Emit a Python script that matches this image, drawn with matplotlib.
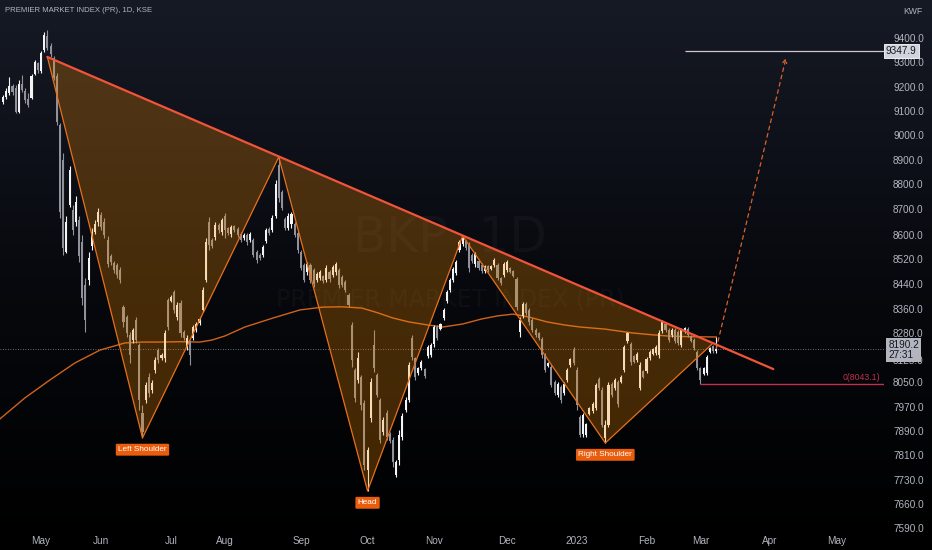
import numpy as np
import matplotlib
matplotlib.use("Agg")
import matplotlib.pyplot as plt
import matplotlib.transforms as mtransforms
from matplotlib.colors import LinearSegmentedColormap
from matplotlib.ticker import FixedLocator, NullLocator

FONT = ["Liberation Sans Narrow", "Liberation Sans", "DejaVu Sans"]
plt.rcParams["font.family"] = FONT

# price axis labels, and the rows (px from top of pane) where TradingView put them;
# this defines the y scale, which is neither linear nor a clean log
AXIS_PRICES = [9400, 9300, 9200, 9100, 9000, 8900, 8800, 8700, 8600, 8520, 8440,
               8360, 8280, 8125, 8050, 7970, 7890, 7810, 7730, 7660, 7590]
AXIS_ROWS = [38, 62, 87, 111, 135, 160, 184, 209, 235, 259, 284,
             309, 333, 360, 382, 407, 431, 455, 480, 504, 528]

# daily bars, (open, high, low, close)
OHLC = [
    # late Apr / May 2022
    (9138, 9167, 9129, 9158), (9158, 9196, 9150, 9183), (9175, 9240, 9167, 9204), (9204, 9212, 9167, 9179),
    (9196, 9208, 9092, 9096), (9096, 9228, 9092, 9212), (9212, 9248, 9179, 9188), (9183, 9196, 9133, 9146),
    (9150, 9175, 9117, 9125), (9154, 9252, 9150, 9244), (9252, 9308, 9248, 9300), (9296, 9300, 9256, 9268),
    (9264, 9346, 9256, 9338), (9350, 9425, 9342, 9413), (9408, 9433, 9350, 9358), (9367, 9379, 9321, 9333),
    (9317, 9325, 9228, 9236), (9244, 9256, 9042, 9054), (9042, 9050, 8665, 8688), (8900, 8928, 8533, 8557),
    (8543, 8673, 8540, 8650), (8716, 8875, 8708, 8858), (8696, 8716, 8600, 8619), (8650, 8752, 8635, 8728),
    (8658, 8673, 8510, 8530), (8577, 8600, 8373, 8395), (8437, 8459, 8283, 8323), (8453, 8543, 8437, 8523),
    (8563, 8627, 8550, 8612), (8612, 8658, 8604, 8642), (8650, 8704, 8635, 8688),
    # Jun
    (8677, 8688, 8619, 8631), (8650, 8665, 8590, 8600), (8583, 8597, 8494, 8504), (8530, 8537, 8501, 8510),
    (8507, 8514, 8475, 8485), (8501, 8507, 8459, 8469), (8485, 8494, 8443, 8453), (8366, 8373, 8300, 8317),
    (8333, 8340, 8257, 8280), (8269, 8283, 8115, 8154), (8240, 8297, 8223, 8290), (8323, 8333, 8223, 8240),
    (8211, 8223, 7960, 7992), (7950, 7976, 7867, 7887), (7992, 8050, 7983, 8040), (8067, 8081, 8002, 8015),
    (8024, 8057, 8015, 8047), (8091, 8142, 8081, 8125), (8182, 8194, 8115, 8125), (8136, 8165, 8125, 8154),
    (8136, 8290, 8118, 8280), (8389, 8395, 8290, 8300),
    # Jul
    (8385, 8405, 8382, 8398), (8414, 8421, 8347, 8357), (8333, 8382, 8323, 8373), (8379, 8389, 8257, 8280),
    (8283, 8290, 8240, 8251), (8200, 8269, 8182, 8251), (8228, 8240, 8108, 8154), (8251, 8307, 8240, 8300),
    (8290, 8317, 8283, 8310), (8313, 8333, 8307, 8327), (8357, 8430, 8350, 8421), (8453, 8590, 8446, 8577),
    (8650, 8669, 8550, 8567), (8583, 8590, 8557, 8563), (8593, 8650, 8583, 8638), (8638, 8646, 8608, 8619),
    (8612, 8665, 8600, 8658),
    # Aug
    (8673, 8685, 8590, 8619), (8627, 8631, 8600, 8608), (8604, 8638, 8593, 8631), (8635, 8638, 8612, 8619),
    (8623, 8631, 8593, 8600), (8604, 8612, 8577, 8583), (8590, 8608, 8583, 8600), (8600, 8608, 8567, 8577),
    (8583, 8612, 8577, 8604), (8583, 8590, 8527, 8533), (8543, 8550, 8507, 8517), (8533, 8540, 8517, 8523),
    (8533, 8567, 8527, 8560), (8580, 8627, 8573, 8619), (8623, 8631, 8600, 8608), (8619, 8677, 8612, 8665),
    (8673, 8817, 8665, 8800), (8879, 8912, 8728, 8744), (8768, 8776, 8696, 8704), (8662, 8669, 8619, 8627),
    (8627, 8685, 8619, 8673), (8642, 8688, 8627, 8681), (8642, 8650, 8593, 8600), (8608, 8619, 8540, 8550),
    # Sep
    (8543, 8550, 8485, 8491), (8501, 8507, 8446, 8453), (8478, 8510, 8469, 8504), (8501, 8507, 8443, 8453),
    (8485, 8491, 8430, 8440), (8453, 8478, 8446, 8472), (8459, 8485, 8453, 8478), (8466, 8469, 8443, 8450),
    (8453, 8501, 8446, 8491), (8478, 8485, 8446, 8456), (8469, 8501, 8462, 8494), (8478, 8510, 8469, 8504),
    (8485, 8491, 8427, 8437), (8462, 8469, 8430, 8437), (8446, 8453, 8414, 8421), (8405, 8411, 8366, 8373),
    (8307, 8317, 8101, 8125), (8091, 8098, 7986, 7999), (8057, 8171, 8047, 8136), (8067, 8074, 7960, 7976),
    (7983, 7992, 7762, 7778),
    # Oct
    (7762, 7837, 7698, 7827), (7933, 8064, 7920, 8050), (8211, 8290, 8084, 8098), (8074, 8081, 8002, 8008),
    (7992, 7999, 7850, 7860), (7887, 7937, 7877, 7927), (7950, 7960, 7860, 7870), (7880, 7887, 7850, 7857),
    (7860, 7870, 7772, 7788), (7746, 7794, 7740, 7788), (7794, 7893, 7778, 7877), (7870, 7950, 7860, 7940),
    (7960, 8002, 7953, 7992), (7992, 8118, 7986, 8108), (8251, 8269, 8125, 8142), (8136, 8142, 8057, 8067),
    (8081, 8101, 8074, 8098), (8098, 8125, 8091, 8118), (8094, 8098, 8064, 8070), (8148, 8211, 8136, 8200),
    (8154, 8223, 8142, 8211),
    # Nov
    (8217, 8307, 8200, 8300), (8300, 8307, 8240, 8251), (8293, 8313, 8290, 8310), (8330, 8363, 8323, 8357),
    (8385, 8421, 8379, 8414), (8421, 8459, 8414, 8453), (8453, 8494, 8446, 8488), (8475, 8517, 8469, 8510),
    (8550, 8583, 8543, 8577), (8570, 8597, 8563, 8590), (8580, 8583, 8550, 8557), (8567, 8577, 8478, 8491),
    (8533, 8540, 8507, 8514), (8504, 8543, 8494, 8537), (8514, 8517, 8485, 8491), (8501, 8507, 8475, 8482),
    (8482, 8501, 8475, 8498), (8498, 8501, 8478, 8485), (8488, 8501, 8485, 8498), (8501, 8523, 8494, 8517),
    (8501, 8507, 8453, 8459), (8459, 8462, 8437, 8443), (8469, 8510, 8462, 8504),
    # Dec
    (8485, 8517, 8478, 8510), (8491, 8494, 8475, 8478), (8482, 8485, 8462, 8466), (8456, 8462, 8357, 8366),
    (8283, 8333, 8257, 8323), (8337, 8382, 8330, 8376), (8376, 8382, 8340, 8347), (8357, 8363, 8307, 8317),
    (8323, 8330, 8283, 8290), (8290, 8297, 8257, 8269), (8280, 8283, 8240, 8251), (8246, 8257, 8136, 8154),
    (8154, 8165, 8084, 8091), (8104, 8118, 8101, 8115), (8101, 8108, 8034, 8040), (8050, 8057, 8008, 8015),
    (8008, 8050, 8002, 8044), (8034, 8040, 7983, 7992), (8015, 8050, 8008, 8044), (8057, 8098, 8050, 8091),
    (8108, 8136, 8101, 8131), (8182, 8200, 8108, 8115),
    # Jan 2023
    (8091, 8101, 7960, 7976), (7937, 7943, 7870, 7877), (7880, 7950, 7870, 7943), (7877, 7917, 7870, 7913),
    (7947, 7970, 7943, 7967), (7957, 7986, 7950, 7980), (7967, 8047, 7960, 8040), (8060, 8067, 8024, 8031),
    (8024, 8034, 7903, 7910), (7867, 7927, 7850, 7910), (7910, 8050, 7903, 8040), (8044, 8050, 8002, 8008),
    (8031, 8064, 8024, 8057), (8050, 8057, 7970, 7980), (8050, 8074, 8047, 8067), (8091, 8211, 8084, 8200),
    (8234, 8283, 8223, 8280), (8217, 8228, 8108, 8118), (8148, 8154, 8115, 8118), (8125, 8171, 8118, 8160),
    (8031, 8118, 8024, 8108), (8088, 8091, 8064, 8067),
    # Feb
    (8088, 8142, 8081, 8131), (8136, 8182, 8125, 8171), (8160, 8194, 8154, 8188), (8165, 8211, 8154, 8200),
    (8154, 8290, 8136, 8280), (8287, 8323, 8280, 8317), (8310, 8313, 8283, 8290), (8290, 8297, 8228, 8240),
    (8269, 8297, 8257, 8290), (8290, 8297, 8223, 8234), (8283, 8290, 8211, 8223), (8211, 8297, 8200, 8290),
    (8283, 8300, 8280, 8297), (8293, 8300, 8257, 8269), (8263, 8269, 8228, 8234), (8240, 8251, 8182, 8194),
    (8171, 8182, 8091, 8098),
    # Mar
    (8098, 8101, 8043.1, 8057), (8077, 8101, 8074, 8098), (8081, 8154, 8074, 8142), (8171, 8200, 8165, 8194),
    (8205, 8211, 8165, 8176), (8176, 8257, 8165, 8190.2),
]

# orange moving average, read at a handful of bars
MA_BAR = [-1, 6.9, 14.8, 22.7, 30.6, 38.5, 44, 49.5, 56, 62.1, 66, 70, 76.3, 85.2, 93.7, 100.9,
          107, 113.2, 118, 123, 128, 133.8, 138.8, 145, 151.1, 156, 160.9, 166, 171.6, 177,
          182, 189.9, 198.7, 204, 209.5, 216, 225]
MA_VAL = [7930, 7999, 8057, 8115, 8182, 8223, 8228, 8228, 8230, 8228, 8240, 8263, 8300, 8330,
          8357, 8366, 8367, 8363, 8348, 8330, 8317, 8307, 8300, 8310, 8327, 8337, 8343, 8333,
          8317, 8307, 8300, 8293, 8280, 8271, 8263, 8259, 8257]

# head & shoulders pivots (bar, price)
PIVOT_BAR = [14, 44, 87, 115, 145, 190, 224]
PIVOT_PRICE = [9321, 7867, 8912, 7698, 8597, 7850, 8222]
NECK_BAR = [14, 243]
NECK_PRICE = [9321, 8094]
LABELS = {"Left Shoulder": (44, 7867), "Head": (115, 7698), "Right Shoulder": (190, 7850)}

LAST_PRICE = 8190.2
COUNTDOWN = "27:31"
TARGET = 9347.9
TARGET_FROM = 215
STOP = 8043.1
STOP_FROM = 220
ARROW_END = (247, 9317)

MONTH_BAR = [12, 31, 53, 70, 94, 115, 136, 159, 181, 203, 220, 242, 263]
MONTH_LABEL = ["May", "Jun", "Jul", "Aug", "Sep", "Oct", "Nov", "Dec", "2023", "Feb", "Mar", "Apr", "May"]

W, H = 932, 550
PANE_H = 532
PANE_W = 884
BAR_PX = 3.17
FIRST_PX = 3

# scale from the axis labels, extended linearly past both ends
_p = np.array(AXIS_PRICES[::-1], float)
_r = -np.array(AXIS_ROWS[::-1], float)
_lo = (_r[1] - _r[0]) / (_p[1] - _p[0])
_hi = (_r[-1] - _r[-2]) / (_p[-1] - _p[-2])
P_EXT = np.concatenate([[_p[0] - 5000], _p, [_p[-1] + 5000]])
R_EXT = np.concatenate([[_r[0] - 5000 * _lo], _r, [_r[-1] + 5000 * _hi]])


def fwd(v):
    return np.interp(np.asarray(v, float), P_EXT, R_EXT)


def inv(r):
    return np.interp(np.asarray(r, float), R_EXT, P_EXT)


fig = plt.figure(figsize=(W / 100, H / 100), dpi=100)

# background gradient: navy at the top fading to black
bg = fig.add_axes([0, 0, 1, 1], zorder=-10)
cmap = LinearSegmentedColormap.from_list("bg", ["#000000", "#07090e", "#161a25"])
bg.imshow(np.linspace(0, 1, 256).reshape(-1, 1), cmap=cmap, aspect="auto",
          extent=[0, 1, 0, 1], origin="lower")
bg.axis("off")

ax = fig.add_axes([0, (H - PANE_H) / H, PANE_W / W, PANE_H / H])
ax.set_facecolor("none")
ax.set_yscale("function", functions=(fwd, inv))
ax.set_ylim(float(inv(-PANE_H)), float(inv(0)))
ax.set_xlim((0 - FIRST_PX) / BAR_PX, (PANE_W - FIRST_PX) / BAR_PX)
for s in ax.spines.values():
    s.set_visible(False)

# watermark
ax.text(450 / PANE_W, 1 - 238 / PANE_H, "BKP  1D", transform=ax.transAxes, fontsize=35,
        family="DejaVu Sans", color="white", alpha=0.03, ha="center", va="center", zorder=0)
ax.text(450 / PANE_W, 1 - 300 / PANE_H, "PREMIER MARKET INDEX (PR)", transform=ax.transAxes,
        fontsize=17, family="DejaVu Sans", color="white", alpha=0.03, ha="center", va="center", zorder=0)

# last-price dotted line
ax.axhline(LAST_PRICE, color="#8a8e99", lw=0.6, ls=(0, (1, 2)), zorder=1)

# moving average
ax.plot(MA_BAR, MA_VAL, color="#d0621c", lw=1.0, zorder=2)

# candles
arr = np.array(OHLC, float)
o, h, l, c = arr.T
idx = np.arange(len(arr))
up = c >= o
cols = np.where(up, "#f4f4f4", "#8f929b")
ax.vlines(idx, l, h, colors=cols, lw=0.8, zorder=3)
ax.bar(idx, np.abs(c - o), bottom=np.minimum(o, c), width=0.66, color=cols, lw=0, zorder=3)

# pattern
ax.fill(PIVOT_BAR, PIVOT_PRICE, fc="#ff9100", alpha=0.26, lw=0, zorder=4)
ax.plot(PIVOT_BAR, PIVOT_PRICE, color="#e8701c", lw=0.9, zorder=5)
ax.plot(NECK_BAR, NECK_PRICE, color="#f2533a", lw=1.6, zorder=6, solid_capstyle="round")

for name, (b, p) in LABELS.items():
    ax.annotate(name, xy=(b, p), xytext=(0, -8.5), textcoords="offset points",
                ha="center", va="center", fontsize=5.9, color="white", zorder=8,
                bbox=dict(boxstyle="round,pad=0.3,rounding_size=0.15", fc="#ea5d0c", ec="none"))

# projection, target and stop
ax.annotate("", xy=ARROW_END, xytext=(idx[-1], LAST_PRICE), zorder=7,
            arrowprops=dict(arrowstyle="->", color="#d9622b", lw=0.9, ls=(0, (3, 3)),
                            shrinkA=0, shrinkB=0, mutation_scale=7))
ax.hlines(TARGET, TARGET_FROM, ax.get_xlim()[1], color="#c8cad0", lw=0.9, zorder=6)
ax.hlines(STOP, STOP_FROM, ax.get_xlim()[1], color="#c0304f", lw=1.0, zorder=6)
ax.annotate("0(%.1f)" % STOP, xy=(ax.get_xlim()[1], STOP), xytext=(-3, 4.5), textcoords="offset points",
            ha="right", va="center", fontsize=6.3, color="#c0304f", zorder=7)

# axes
ax.yaxis.tick_right()
ax.yaxis.set_major_locator(FixedLocator(AXIS_PRICES))
ax.yaxis.set_minor_locator(NullLocator())
ax.set_yticklabels(["%.1f" % v for v in AXIS_PRICES])
ax.set_xticks(MONTH_BAR)
ax.set_xticklabels(MONTH_LABEL)
ax.tick_params(axis="y", length=0, pad=6.5, labelsize=7.2, labelcolor="#b2b5be")
ax.tick_params(axis="x", length=0, pad=3, labelsize=7.2, labelcolor="#b2b5be")

trans = mtransforms.blended_transform_factory(ax.transAxes, ax.transData)
ax.text(1.002, TARGET, "9347.9", transform=trans, ha="left", va="center", fontsize=7.2,
        color="#131722", zorder=9, clip_on=False,
        bbox=dict(boxstyle="square,pad=0.2", fc="#d1d4dc", ec="#ffffff", lw=0.6))
ax.annotate("%.1f\n%s" % (LAST_PRICE, COUNTDOWN), xy=(1.0, LAST_PRICE), xycoords=trans,
            xytext=(3, 6), textcoords="offset points", ha="left", va="top", fontsize=7.2,
            linespacing=0.95, color="#131722", zorder=9, annotation_clip=False,
            bbox=dict(boxstyle="square,pad=0.25", fc="#b2b5be", ec="none"))

fig.text(5 / W, 1 - 11 / H, "PREMIER MARKET INDEX (PR), 1D, KSE", fontsize=5.6,
         color="#b2b5be", ha="left", va="center")
fig.text(903 / W, 1 - 11 / H, "KWF", fontsize=6.2, color="#b2b5be", ha="left", va="center")

fig.savefig("out.png", dpi=100)
